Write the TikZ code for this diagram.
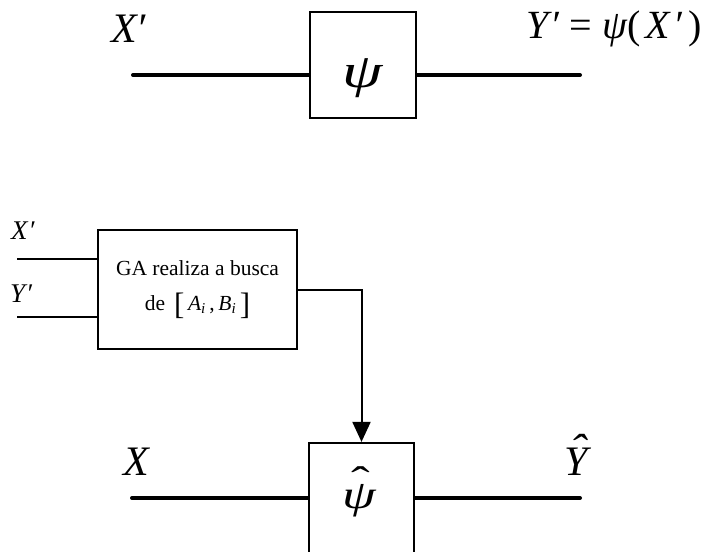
\documentclass[tikz,border=0pt]{standalone}
\usepackage{graphicx}
\usepackage{fontspec}
\setmainfont{Liberation Serif}
\usetikzlibrary{arrows.meta, positioning}

% hat placed over a letter
\newcommand{\withhat}[4]{\ooalign{#1\cr\hidewidth\kern#2\raisebox{#3}{\scalebox{#4}[1]{ˆ}}\hidewidth\cr}}
% wide italic psi
\newcommand{\widepsi}{\scalebox{1.35}[1]{\itshape ψ}}

\begin{document}
\begin{tikzpicture}[
    x=1pt, y=-1pt,
    blk/.style={draw, line width=2.2pt, inner sep=0pt},
    sig/.style={line width=4pt, line cap=round},
    feed/.style={line width=2.6pt},
    conn/.style={line width=2pt, -{Triangle[length=20pt, width=18pt]}},
    lbl/.style={inner sep=0pt, anchor=base west, font=\fontsize{42}{50}\selectfont\itshape},
    small/.style={inner sep=0pt, anchor=base west, font=\fontsize{27}{30}\selectfont\itshape}
]
\useasboundingbox (0,0) rectangle (703,551);

% Original system
\node[blk, minimum width=106pt, minimum height=106pt] (psi) at (363,65) {};
\node[inner sep=0pt, anchor=base, font=\fontsize{48}{50}\selectfont] (psisym) at (363,87) {\widepsi};
\coordinate (xin) at (133,75);
\coordinate (yout) at (580,75);
\draw[sig] (xin) -- (xin -| psi.west);
\draw[sig] (yout -| psi.east) -- (yout);
\node[lbl] (xlab) at (111,42) {X′};
\node[lbl, font=\fontsize{40}{48}\selectfont] (ylab) at (526,39)
      {\textit{Y\kern2pt′}\kern10pt=\kern10pt\textit{ψ}(\kern5pt\textit{X\kern3pt′}\kern6pt)};

% GA search block
\node[blk, minimum width=199pt, minimum height=119pt, align=center,
      font=\fontsize{21.5}{35}\selectfont] (ga) at (197.5,289.5)
      {GA realiza a busca\\ de \,{\fontsize{31}{31}\selectfont\raisebox{-4pt}{[}}\,\textit{A}\textsubscript{\textit{i}}\,,\,\textit{B}\textsubscript{\textit{i}}\,{\fontsize{31}{31}\selectfont\raisebox{-4pt}{]}}};
\coordinate (gax) at (17,259);
\coordinate (gay) at (17,317);
\draw[feed] (gax) -- (gax -| ga.west);
\draw[feed] (gay) -- (gay -| ga.west);
\node[small] (gaxlab) at (11,239) {X\kern1pt′};
\node[small] (gaylab) at (10,302) {Y\kern1pt′};

% Estimated system
\node[blk, minimum width=105pt, minimum height=110pt] (psihat) at (361.5,498) {};
\node[inner sep=0pt, anchor=base, font=\fontsize{40}{48}\selectfont] (psihatsym) at (359,508)
      {\withhat{\widepsi}{3pt}{0.34em}{1.4}};
\coordinate (xin2) at (132,498);
\coordinate (yout2) at (580,498);
\draw[sig] (xin2) -- (psihat.west);
\draw[sig] (psihat.east) -- (yout2);
\node[lbl] (x2lab) at (123,475) {X};
\node[lbl] (yhatlab) at (564,475) {\withhat{Y}{4pt}{0.27em}{1.2}};

% parameters from GA
\draw[conn] (ga.east) -| (psihat.north);

\end{tikzpicture}
\end{document}
